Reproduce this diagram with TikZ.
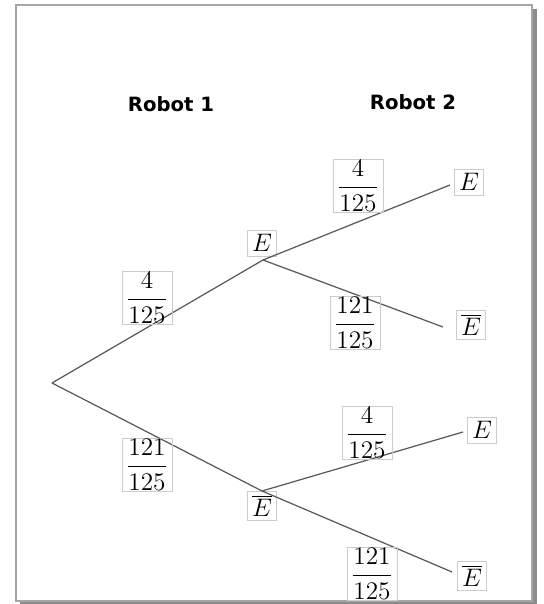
\documentclass[tikz,border=0pt]{standalone}
\usepackage{fontspec}
\newfontfamily\robotfont{DejaVu Sans}
\usepackage{tikz}

\begin{document}
\begin{tikzpicture}[
    prob/.style={draw=gray!40, line width=0.4pt, inner xsep=2.5pt, inner ysep=0.6pt, font=\fontsize{13.5}{16}\selectfont},
    event/.style={draw=gray!40, line width=0.4pt, inner sep=2.5pt, font=\fontsize{14}{16}\selectfont},
    branch/.style={draw=black!65, line width=0.7pt},
    head/.style={font=\robotfont\bfseries\fontsize{11.2}{13}\selectfont}
  ]
    \useasboundingbox (0, 0) rectangle (10.88, 12.08);
    % frame with shadow
    \draw[black!45, line width=2pt] (10.70, 11.90) -- (10.70, 0.00) -- (0.40, 0.00);
    \draw[gray!70, line width=1pt] (0.32, 0.06) rectangle (10.64, 11.98);

    \node[head] (R1) at (3.42, 10.00) {Robot 1};
    \node[head] (R2) at (8.26, 10.04) {Robot 2};

    \coordinate (O) at (1.04, 4.42);
    \coordinate (A) at (5.26, 6.88);
    \coordinate (B) at (5.24, 2.26);
    \coordinate (T1) at (9.00, 8.38);
    \coordinate (T2) at (8.86, 5.54);
    \coordinate (T3) at (9.26, 3.44);
    \coordinate (T4) at (9.04, 0.64);

    \node[event] (EA) at (5.24, 7.22) {$E$};
    \node[event] (EB) at (5.24, 1.96) {$\overline{E}$};
    \node[event] (E1) at (9.38, 8.44) {$E$};
    \node[event] (E2) at (9.42, 5.58) {$\overline{E}$};
    \node[event] (E3) at (9.64, 3.48) {$E$};
    \node[event] (E4) at (9.44, 0.56) {$\overline{E}$};

    \draw[branch] (O) -- (A);
    \draw[branch] (O) -- (B);
    \draw[branch] (A) -- (T1);
    \draw[branch] (A) -- (T2);
    \draw[branch] (B) -- (T3);
    \draw[branch] (B) -- (T4);

    \node[prob] (P1) at (2.94, 6.12) {$\displaystyle\frac{4}{125}$};
    \node[prob] (P2) at (2.94, 2.78) {$\displaystyle\frac{121}{125}$};
    \node[prob] (P3) at (7.16, 8.36) {$\displaystyle\frac{4}{125}$};
    \node[prob] (P4) at (7.10, 5.62) {$\displaystyle\frac{121}{125}$};
    \node[prob] (P5) at (7.34, 3.42) {$\displaystyle\frac{4}{125}$};
    \node[prob] (P6) at (7.44, 0.60) {$\displaystyle\frac{121}{125}$};
  \end{tikzpicture}
\end{document}
